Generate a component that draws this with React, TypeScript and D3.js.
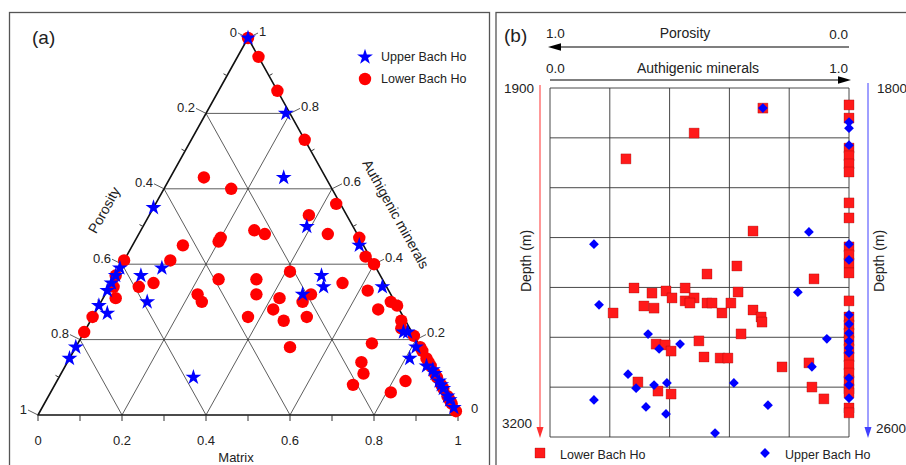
import React from 'react';
import * as d3 from 'd3';

// ternary values: [porosity, authigenic minerals], matrix = 1 - both
const lowerTernary: [number, number][] = [
  [0, 1], [0, 0.95], [0, 0.86], [0, 0.73], [0.29, 0.63], [0.24, 0.6], [0.01, 0.56], [0.09, 0.53],
  [0.24, 0.49], [0.22, 0.48], [0.07, 0.48], [0, 0.47], [0.33, 0.47], [0.34, 0.46], [0.43, 0.45],
  [0.01, 0.42], [0, 0.4], [0.59, 0.41], [0.48, 0.41], [0.21, 0.38], [0.63, 0.37], [0.39, 0.36],
  [0.3, 0.36], [0.1, 0.35], [0.65, 0.34], [0.59, 0.34], [0.55, 0.35], [0.32, 0.32], [0.19, 0.32],
  [0.05, 0.33], [0.46, 0.32], [0.46, 0.3], [0.66, 0.31], [0.27, 0.31], [0.22, 0.3], [0.3, 0.28],
  [0.01, 0.3], [0, 0.29], [0.05, 0.28], [0.02, 0.23], [0.74, 0.26], [0.37, 0.26], [0.23, 0.26],
  [0.29, 0.25], [0.01, 0.25], [0.78, 0.22], [0, 0.21], [0.11, 0.19], [0.31, 0.18], [0, 0.18],
  [0.16, 0.14], [0.17, 0.11], [0.21, 0.08], [0.08, 0.09], [0.13, 0.06],
  [0, 0.17], [0, 0.15], [0, 0.14], [0, 0.13], [0, 0.11], [0, 0.1], [0, 0.08], [0, 0.07],
  [0, 0.05], [0, 0.04], [0, 0.03], [0, 0.01],
];

const upperTernary: [number, number][] = [
  [0, 1], [0.01, 0.8], [0.1, 0.63], [0.45, 0.55], [0.11, 0.5], [0.01, 0.45], [0.61, 0.39],
  [0.51, 0.39], [0.63, 0.37], [0.65, 0.35], [0.57, 0.37], [0.14, 0.37], [0.15, 0.34], [0.01, 0.34],
  [0.21, 0.32], [0.67, 0.33], [0.59, 0.3], [0.71, 0.29], [0.7, 0.27], [0.82, 0.18], [0.85, 0.15],
  [0.58, 0.1], [0.02, 0.22], [0.01, 0.22], [0.01, 0.18], [0.04, 0.15],
  [0.01, 0.13], [0, 0.12], [0, 0.11], [0, 0.09], [0, 0.08], [0, 0.07], [0, 0.05], [0, 0.04], [0, 0.02],
];

// depth panel: [authigenic / (authigenic + porosity), depth m]
const lowerDepth: [number, number][] = [
  [1, 1963], [1, 2012], [1, 2124], [1, 2153], [1, 2183], [1, 2213], [1, 2328], [1, 2384],
  [1, 2492], [1, 2522], [1, 2552], [1, 2589], [1, 2693], [1, 2753], [1, 2783], [1, 2813],
  [1, 2842], [1, 2872], [1, 2902], [1, 2932], [1, 2962], [1, 2991], [1, 3021], [1, 3036],
  [1, 3092], [1, 3110],
  [0.712, 1975], [0.482, 2068], [0.254, 2164], [0.679, 2433], [0.625, 2563], [0.525, 2593],
  [0.883, 2611], [0.281, 2645], [0.341, 2664], [0.388, 2656], [0.408, 2682], [0.452, 2645],
  [0.452, 2693], [0.482, 2682], [0.468, 2701], [0.629, 2660], [0.314, 2712], [0.348, 2720],
  [0.211, 2738], [0.525, 2701], [0.542, 2701], [0.605, 2701], [0.575, 2738], [0.679, 2727],
  [0.706, 2753], [0.709, 2772], [0.639, 2816], [0.498, 2842], [0.355, 2854], [0.385, 2857],
  [0.405, 2880], [0.515, 2902], [0.569, 2906], [0.595, 2906], [0.776, 2939], [0.866, 2924],
  [0.294, 2995], [0.361, 3029], [0.405, 3040], [0.876, 3014], [0.916, 3058],
];

const upperDepth: [number, number][] = [
  [1, 1878], [1, 1892], [1, 1931], [1, 2158], [1, 2194], [1, 2320], [1, 2341], [1, 2362],
  [1, 2380], [1, 2396], [1, 2407], [1, 2465], [1, 2481], [1, 2511],
  [0.712, 1846], [0.866, 2130], [0.147, 2158], [0.829, 2268], [0.164, 2297], [0.926, 2375],
  [0.328, 2364], [0.365, 2398], [0.435, 2387], [0.261, 2456], [0.288, 2488], [0.348, 2481],
  [0.391, 2476], [0.615, 2476], [0.876, 2439], [0.147, 2515], [0.321, 2531], [0.729, 2527],
  [0.388, 2547], [0.552, 2591],
];

const tenths = d3.range(0, 11).map(i => i / 10);
const majorTicks = [0, 0.2, 0.4, 0.6, 0.8, 1];
const gridVals = [0.2, 0.4, 0.6, 0.8];
const lowerDepthRange = [1900, 3200];
const upperDepthRange = [1800, 2600];
const depthRows = 7;

const FONT = "'Liberation Sans', Arial, sans-serif";
const RED = '#ff0000';
const BLUE = '#0000ff';

const fmt = (v: number) => (v === 0 || v === 1 ? String(v) : d3.format('.1f')(v));

const App = () => {
  // ternary scales
  const tx = d3.scaleLinear().domain([0, 1]).range([38, 458]);
  const ty = d3.scaleLinear().domain([0, 1]).range([415, 38]);
  const tern = (p: number, a: number): [number, number] => {
    const m = 1 - p - a;
    return [tx(m + a / 2), ty(a)];
  };

  // depth panel scales
  const fx = d3.scaleLinear().domain([0, 1]).range([550, 849]);
  const yLow = d3.scaleLinear().domain(lowerDepthRange).range([88, 437]);
  const yUp = d3.scaleLinear().domain(upperDepthRange).range([88, 437]);
  const yRow = d3.scaleLinear().domain([0, depthRows]).range([88, 437]);

  const star = d3.symbol().type(d3.symbolStar).size(78)() as string;
  const square = d3.symbol().type(d3.symbolSquare).size(100)() as string;
  const diamond = d3.symbol().type(d3.symbolSquare).size(48)() as string;

  const gridLines: [number, number][][] = [];
  gridVals.forEach(v => {
    gridLines.push([tern(1 - v, v), tern(0, v)]);
    gridLines.push([tern(v, 1 - v), tern(v, 0)]);
    gridLines.push([tern(1 - v, 0), tern(0, 1 - v)]);
  });

  const nl: [number, number] = [-0.874, -0.487];
  const nr: [number, number] = [0.874, -0.487];

  const txt = { fontFamily: FONT, fill: '#222' } as const;

  return (
    <svg width={906} height={465} style={{ position: 'absolute', left: 0, top: 0, background: '#fff' }}>
      {/* panel frames */}
      <rect x={9.5} y={12.5} width={480} height={470} fill="none" stroke="#555" strokeWidth={1.3} />
      <rect x={496} y={12.5} width={430} height={470} fill="none" stroke="#555" strokeWidth={1.3} />

      {/* ================= (a) ternary ================= */}
      <text x={32} y={37} fontSize={19} dominantBaseline="central" {...txt}>(a)</text>

      <g stroke="#333" strokeWidth={0.8}>
        {gridLines.map((l, i) => (
          <line key={i} x1={l[0][0]} y1={l[0][1]} x2={l[1][0]} y2={l[1][1]} />
        ))}
      </g>
      <path
        d={`M${tern(1, 0)}L${tern(0, 1)}L${tern(0, 0)}Z`}
        fill="none" stroke="#111" strokeWidth={1.6} strokeLinejoin="round"
      />

      {/* bottom axis: matrix */}
      <g stroke="#333" strokeWidth={1}>
        {tenths.map(t => <line key={t} x1={tx(t)} x2={tx(t)} y1={415} y2={421} />)}
      </g>
      {majorTicks.map(t => (
        <text key={t} x={tx(t)} y={440} fontSize={13} textAnchor="middle" dominantBaseline="central" {...txt}>{fmt(t)}</text>
      ))}
      <text x={236} y={457} fontSize={13} textAnchor="middle" dominantBaseline="central" {...txt}>Matrix</text>

      {/* left edge: porosity */}
      {tenths.map(p => {
        const [x, y] = tern(p, 1 - p);
        const major = Math.round(p * 10) % 2 === 0;
        if (!major) {
          return <line key={p} x1={x} y1={y} x2={x + nl[0] * 4} y2={y + nl[1] * 4} stroke="#333" strokeWidth={1} />;
        }
        return (
          <g key={p}>
            <line x1={x} y1={y} x2={x - 10} y2={y - 5} stroke="#333" strokeWidth={0.8} />
            <text x={x - 11} y={y - 6} fontSize={13} textAnchor="end" dominantBaseline="central" {...txt}>{fmt(p)}</text>
          </g>
        );
      })}
      <text transform="translate(104,210) rotate(-61)" fontSize={14} textAnchor="middle" dominantBaseline="central" {...txt}>Porosity</text>

      {/* right edge: authigenic minerals */}
      {tenths.map(a => {
        const [x, y] = tern(0, a);
        const major = Math.round(a * 10) % 2 === 0;
        if (!major) {
          return <line key={a} x1={x} y1={y} x2={x + nr[0] * 4} y2={y + nr[1] * 4} stroke="#333" strokeWidth={1} />;
        }
        return (
          <g key={a}>
            {a > 0 && <line x1={x} y1={y} x2={x + 10} y2={y - 5} stroke="#333" strokeWidth={0.8} />}
            <text x={x + (a > 0 ? 11 : 13)} y={y - 7} fontSize={13} dominantBaseline="central" {...txt}>{fmt(a)}</text>
          </g>
        );
      })}
      <text transform="translate(396,214) rotate(61)" fontSize={14} textAnchor="middle" dominantBaseline="central" {...txt}>Authigenic minerals</text>

      {/* points */}
      <g fill={RED}>
        {lowerTernary.map((d, i) => {
          const [x, y] = tern(d[0], d[1]);
          return <circle key={i} cx={x} cy={y} r={6.2} />;
        })}
      </g>
      <g fill={BLUE}>
        {upperTernary.map((d, i) => {
          const [x, y] = tern(d[0], d[1]);
          return <path key={i} d={star} transform={`translate(${x},${y})`} />;
        })}
      </g>

      {/* legend (a) */}
      <path d={star} transform="translate(365,57)" fill={BLUE} />
      <text x={381} y={57} fontSize={12.5} dominantBaseline="central" {...txt}>Upper Bach Ho</text>
      <circle cx={365} cy={79} r={6.2} fill={RED} />
      <text x={381} y={79} fontSize={12.5} dominantBaseline="central" {...txt}>Lower Bach Ho</text>

      {/* ================= (b) depth ================= */}
      <text x={504} y={35} fontSize={19} dominantBaseline="central" {...txt}>(b)</text>

      {/* top arrows */}
      <line x1={fx(1)} x2={fx(0) + 10} y1={47} y2={47} stroke="#000" strokeWidth={1.2} />
      <path d={`M${fx(0) - 2},47L${fx(0) + 11},43.3L${fx(0) + 11},50.7Z`} fill="#000" />
      <text x={fx(0) - 4} y={33} fontSize={13.5} dominantBaseline="central" {...txt}>1.0</text>
      <text x={685} y={33} fontSize={14} textAnchor="middle" dominantBaseline="central" {...txt}>Porosity</text>
      <text x={fx(1) - 1} y={34} fontSize={13.5} textAnchor="end" dominantBaseline="central" {...txt}>0.0</text>

      <line x1={fx(0)} x2={fx(1) - 10} y1={80} y2={80} stroke="#000" strokeWidth={1.2} />
      <path d={`M${fx(1) + 2},80L${fx(1) - 11},76.3L${fx(1) - 11},83.7Z`} fill="#000" />
      <text x={fx(0) - 4} y={68} fontSize={13.5} dominantBaseline="central" {...txt}>0.0</text>
      <text x={698} y={68} fontSize={14} textAnchor="middle" dominantBaseline="central" {...txt}>Authigenic minerals</text>
      <text x={fx(1) - 1} y={68} fontSize={13.5} textAnchor="end" dominantBaseline="central" {...txt}>1.0</text>

      {/* grid */}
      <g stroke="#333" strokeWidth={0.9}>
        {majorTicks.map(t => <line key={t} x1={fx(t)} x2={fx(t)} y1={88} y2={437} />)}
        {d3.range(0, depthRows + 1).map(i => <line key={i} x1={fx(0)} x2={fx(1)} y1={yRow(i)} y2={yRow(i)} />)}
      </g>

      {/* depth axes */}
      <line x1={540} x2={540} y1={85} y2={430} stroke="#ff3030" strokeWidth={1} />
      <path d="M540,438L536.5,427L543.5,427Z" fill="#ff3030" />
      <text x={534} y={88} fontSize={13.5} textAnchor="end" dominantBaseline="central" {...txt}>{lowerDepthRange[0]}</text>
      <text x={532} y={423} fontSize={13.5} textAnchor="end" dominantBaseline="central" {...txt}>{lowerDepthRange[1]}</text>
      <text transform="translate(526,261) rotate(-90)" fontSize={14} textAnchor="middle" dominantBaseline="central" {...txt}>Depth (m)</text>

      <line x1={868} x2={868} y1={83} y2={430} stroke="#4040ff" strokeWidth={1} />
      <path d="M868,438L864.5,427L871.5,427Z" fill="#4040ff" />
      <text x={877} y={88} fontSize={13.5} dominantBaseline="central" {...txt}>{upperDepthRange[0]}</text>
      <text x={876} y={428} fontSize={13.5} dominantBaseline="central" {...txt}>{upperDepthRange[1]}</text>
      <text transform="translate(879,261) rotate(-90)" fontSize={14} textAnchor="middle" dominantBaseline="central" {...txt}>Depth (m)</text>

      {/* points */}
      <g fill="#ff1a1a" stroke="#8a0000" strokeWidth={0.5} strokeOpacity={0.6}>
        {lowerDepth.map((d, i) => (
          <path key={i} d={square} transform={`translate(${fx(d[0])},${yLow(d[1])})`} />
        ))}
      </g>
      <g fill={BLUE}>
        {upperDepth.map((d, i) => (
          <path key={i} d={diamond} transform={`translate(${fx(d[0])},${yUp(d[1])}) rotate(45)`} />
        ))}
      </g>

      {/* legend (b) */}
      <path d={square} transform="translate(540,453)" fill="#ff1a1a" stroke="#8a0000" strokeWidth={0.5} strokeOpacity={0.6} />
      <text x={560} y={455} fontSize={12.5} dominantBaseline="central" {...txt}>Lower Bach Ho</text>
      <path d={diamond} transform="translate(765,453) rotate(45)" fill={BLUE} />
      <text x={785} y={455} fontSize={12.5} dominantBaseline="central" {...txt}>Upper Bach Ho</text>
    </svg>
  );
};

export default App;
